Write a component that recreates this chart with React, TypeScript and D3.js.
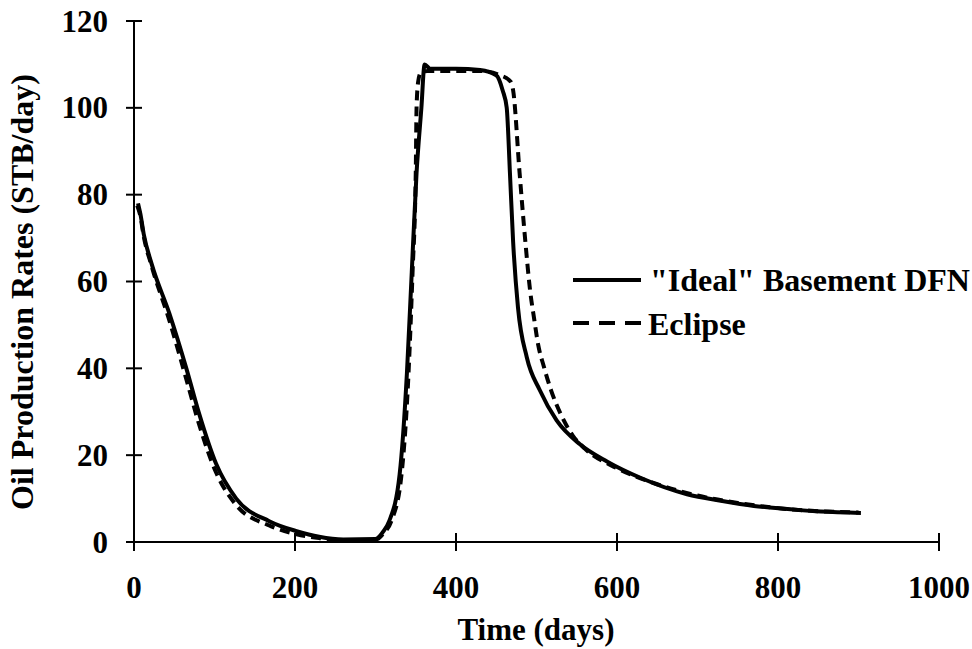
import React from "react";
import * as d3 from "d3";

// Oil production rate vs time for the two simulators
const idealDays = [5, 8, 12, 22, 44, 65, 81, 102, 127, 168, 202, 230, 260, 300, 310, 317, 330, 339, 345, 351, 357, 361, 368, 400, 430, 450, 458, 463, 467, 471, 477, 488, 504, 525, 554, 588, 629, 687, 729, 770, 812, 853, 903];
const idealRates = [78, 75.5, 71, 64, 52.6, 40, 29.5, 18, 10, 4.8, 2.5, 1.2, 0.6, 0.7, 2.5, 4.8, 15.6, 38.8, 62, 85, 100, 110, 109, 109, 108.7, 107.5, 104, 100, 85, 69, 54, 42.5, 35, 28, 22.5, 18.5, 14.8, 11, 9.5, 8.3, 7.6, 7, 6.7];

const eclipseDays = [4, 8, 12, 22, 44, 65, 81, 102, 127, 168, 202, 230, 260, 300, 310, 320, 332, 341, 346, 350, 351, 353, 356, 365, 400, 430, 455, 468, 471, 479, 486, 492, 497, 502, 509, 518, 530, 545, 560, 600, 650, 700, 750, 800, 850, 900];
const eclipseRates = [77.5, 75, 70.5, 63.5, 51, 37.5, 27, 16, 8.5, 3.8, 1.8, 0.9, 0.4, 0.5, 2, 5, 15, 38.8, 62, 85, 100, 106, 108, 108.5, 108.5, 108.5, 107.5, 106, 104, 85, 69.5, 58, 51.5, 45.5, 40.5, 35, 29.5, 24.5, 21.5, 17, 13.3, 10.7, 9, 7.8, 7.1, 6.8];

const xTicks = [0, 200, 400, 600, 800, 1000];
const yTicks = [0, 20, 40, 60, 80, 100, 120];

const seriesNames = ['"Ideal" Basement DFN', "Eclipse"];

const W = 972;
const H = 649;
const FONT = "'Liberation Serif', 'Times New Roman', serif";

export default function App() {
  const x = d3.scaleLinear().domain([0, 1000]).range([134, 939]);
  const y = d3.scaleLinear().domain([0, 120]).range([542, 21]);

  const line = d3
    .line<[number, number]>()
    .x((d) => x(d[0]))
    .y((d) => y(d[1]))
    .curve(d3.curveMonotoneX);

  const ideal = idealDays.map((d, i) => [d, idealRates[i]] as [number, number]);
  const eclipse = eclipseDays.map((d, i) => [d, eclipseRates[i]] as [number, number]);

  const textStyle = { fontFamily: FONT, fontWeight: 700, fill: "#000" } as const;

  return (
    <svg
      width={W}
      height={H}
      style={{ position: "absolute", left: 0, top: 0, background: "#fff" }}
    >
      {/* axes */}
      <line x1={x(0)} x2={x(0)} y1={y(120)} y2={y(0)} stroke="#000" strokeWidth={2} />
      <line x1={x(0)} x2={x(1000)} y1={y(0)} y2={y(0)} stroke="#000" strokeWidth={2} />
      {yTicks.map((t) => (
        <g key={"y" + t}>
          <line x1={x(0) - 8} x2={x(0) + 8} y1={y(t)} y2={y(t)} stroke="#000" strokeWidth={2} />
          <text x={108} y={y(t) + 10.5} textAnchor="end" fontSize={31} style={textStyle}>
            {t}
          </text>
        </g>
      ))}
      {xTicks.map((t) => (
        <g key={"x" + t}>
          <line x1={x(t)} x2={x(t)} y1={y(0) - 9} y2={y(0) + 9} stroke="#000" strokeWidth={2} />
          <text x={x(t)} y={598} textAnchor="middle" fontSize={31} style={textStyle}>
            {t}
          </text>
        </g>
      ))}
      <text x={536} y={640} textAnchor="middle" fontSize={31} style={textStyle}>
        Time (days)
      </text>
      <text
        transform={`translate(33,292) rotate(-90)`}
        textAnchor="middle"
        fontSize={32}
        style={textStyle}
      >
        Oil Production Rates (STB/day)
      </text>

      {/* series */}
      <path d={line(eclipse) || ""} fill="none" stroke="#000" strokeWidth={4} strokeDasharray="10,6" />
      <path d={line(ideal) || ""} fill="none" stroke="#000" strokeWidth={4} strokeLinejoin="round" />

      {/* legend */}
      <line x1={573} x2={641} y1={280} y2={280} stroke="#000" strokeWidth={4} />
      <text x={650} y={291} fontSize={32} style={textStyle}>
        {seriesNames[0]}
      </text>
      <line x1={573} x2={641} y1={323} y2={323} stroke="#000" strokeWidth={4} strokeDasharray="16,10" />
      <text x={648} y={335} fontSize={32} style={textStyle}>
        {seriesNames[1]}
      </text>
    </svg>
  );
}
